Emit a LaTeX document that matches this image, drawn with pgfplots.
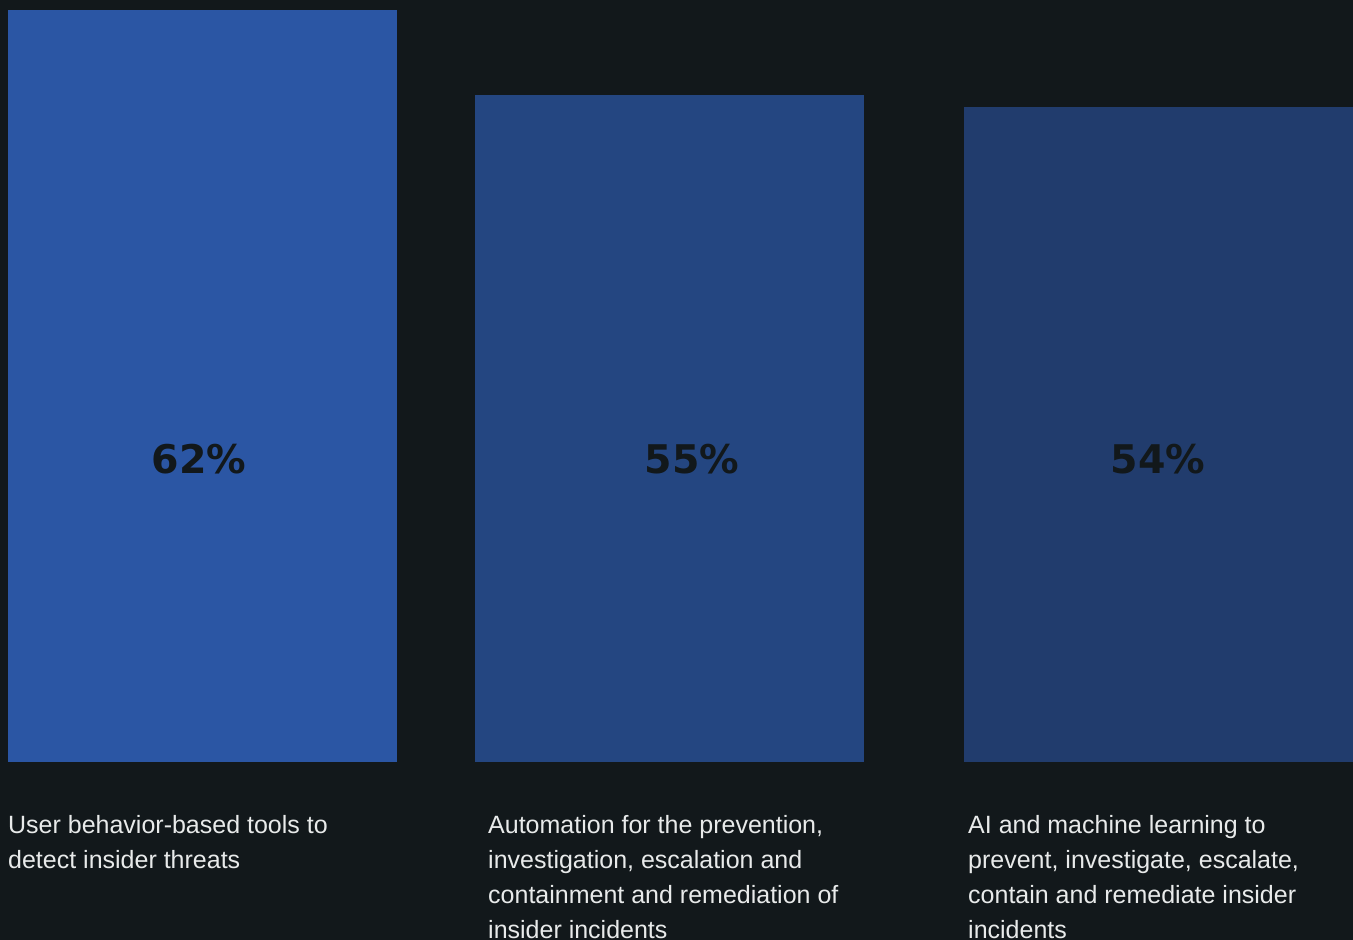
\documentclass[border=0pt]{standalone}
\usepackage{pgfplots}
\pgfplotsset{compat=1.18}
\usepackage{fontspec}
\setmainfont{Liberation Sans}
\newfontfamily\valfont{DejaVu Sans}
\definecolor{bg}{HTML}{12181B}
\definecolor{barA}{HTML}{2B56A4}
\definecolor{barB}{HTML}{244681}
\definecolor{barC}{HTML}{213C6D}
\definecolor{lbl}{HTML}{E8EAEA}
\definecolor{valc}{HTML}{12181B}
\begin{document}
\begin{tikzpicture}
\fill[bg] (0,0) rectangle (1353pt,940pt);
\begin{axis}[
  at={(0,0)}, anchor=south west,
  width=1353pt, height=940pt, scale only axis,
  xmin=0, xmax=1353, ymin=-14.68, ymax=62.82,
  axis line style={draw=none}, ticks=none,
  ybar, bar width=389, bar shift=0pt,
  clip=false,
]
\addplot[fill=barA, draw=none] coordinates {(202.5,62)};
\addplot[fill=barB, draw=none] coordinates {(669.5,55)};
\addplot[fill=barC, draw=none] coordinates {(1158,54)};
\node[font=\valfont\bfseries\fontsize{39.5}{40}\selectfont, text=valc] at (axis cs:199,24.98) {62\%};
\node[font=\valfont\bfseries\fontsize{39.5}{40}\selectfont, text=valc] at (axis cs:692,24.98) {55\%};
\node[font=\valfont\bfseries\fontsize{39.5}{40}\selectfont, text=valc] at (axis cs:1158,24.98) {54\%};
% base anchor = baseline of the last line
\node[anchor=base west, inner sep=0pt, text=lbl, font=\fontsize{25}{35}\selectfont, align=left] at (axis cs:8,-8.82) {User behavior-based tools to\\detect insider threats};
\node[anchor=base west, inner sep=0pt, text=lbl, font=\fontsize{25}{35}\selectfont, align=left] at (axis cs:488,-14.59) {Automation for the prevention,\\investigation, escalation and\\containment and remediation of\\insider incidents};
\node[anchor=base west, inner sep=0pt, text=lbl, font=\fontsize{25}{35}\selectfont, align=left] at (axis cs:968,-14.59) {AI and machine learning to\\prevent, investigate, escalate,\\contain and remediate insider\\incidents};
\end{axis}
\end{tikzpicture}
\end{document}
